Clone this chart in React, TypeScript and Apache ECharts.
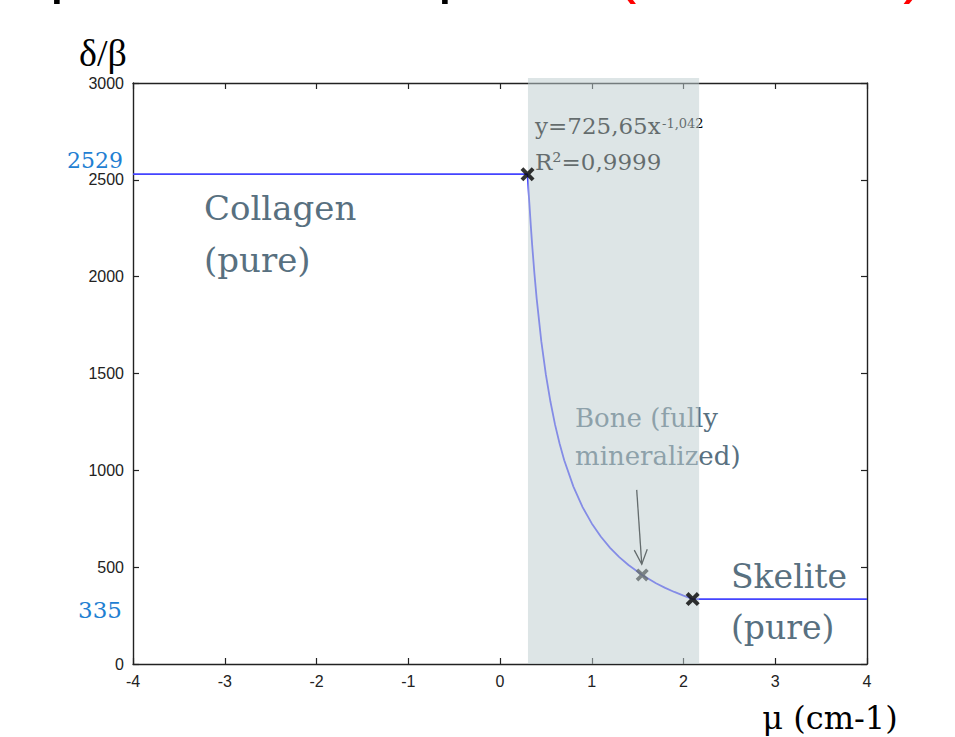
import React, { useEffect, useRef } from "react";
import * as echarts from "echarts";

// ---- data ----
const xTickMin = -4;
const xTickMax = 4;
const yTickMin = 0;
const yTickMax = 3000;

const collagenX = [-4, 0.3];
const collagenY = [2529, 2529];

const fitX = [0.31, 0.32, 0.335, 0.35, 0.375, 0.4, 0.45, 0.5, 0.55, 0.6, 0.65, 0.7, 0.8, 0.9, 1.0, 1.1, 1.2, 1.3, 1.4, 1.55, 1.7, 1.8, 1.9, 2.0, 2.1];
const fitY = [2451, 2379, 2269, 2167, 2017, 1885, 1667, 1494, 1354, 1236, 1137, 1052, 916, 810, 726, 657, 600, 552, 511, 460, 417, 393, 372, 353, 335];

const skeliteX = [2.1, 4];
const skeliteY = [335, 335];

const pureMarkers = [
  [0.3, 2529],
  [2.1, 335],
];
const boneMarker = [[1.55, 460]];

const bandRange = [0.305, 2.17];
const arrowFrom = [1.49, 899];
const arrowTo = [1.545, 515];

const labelCollagen = 2529;
const labelSkelite = 335;

const SERIF = "'DejaVu Serif', serif";
const SANS = "'Liberation Sans', Arial, sans-serif";
const TXT = "#587080";
const BLUE_LBL = "#1f80d2";

const XSYM =
  "path://M2,0 L5,3 L8,0 L10,2 L7,5 L10,8 L8,10 L5,7 L2,10 L0,8 L3,5 L0,2 Z";

export default function App() {
  const ref = useRef<HTMLDivElement>(null);

  useEffect(() => {
    if (!ref.current) return;
    const chart = echarts.init(ref.current, null, { renderer: "svg" });

    const lineData: number[][] = [];
    collagenX.forEach((x, i) => lineData.push([x, collagenY[i]]));
    fitX.forEach((x, i) => lineData.push([x, fitY[i]]));
    skeliteX.forEach((x, i) => lineData.push([x, skeliteY[i]]));

    const axisCommon = {
      type: "value" as const,
      axisLine: { show: true, onZero: false, lineStyle: { color: "#222", width: 1.4 } },
      axisTick: { show: true, inside: true, length: 6, lineStyle: { color: "#222", width: 1.2 } },
      splitLine: { show: false },
    };

    chart.setOption({
      animation: false,
      backgroundColor: "#fff",
      grid: { left: 133, right: 88, top: 83, bottom: 73, containLabel: false },
      xAxis: [
        {
          ...axisCommon,
          position: "bottom",
          min: xTickMin,
          max: xTickMax,
          interval: 1,
          axisLabel: {
            color: "#222",
            fontFamily: SANS,
            fontSize: 16,
            margin: 9,
            formatter: (v: number) => String(v),
          },
        },
        {
          ...axisCommon,
          position: "top",
          min: xTickMin,
          max: xTickMax,
          interval: 1,
          axisLabel: { show: false },
        },
      ],
      yAxis: [
        {
          ...axisCommon,
          position: "left",
          min: yTickMin,
          max: yTickMax,
          interval: 500,
          axisLabel: {
            color: "#222",
            fontFamily: SANS,
            fontSize: 16,
            margin: 9,
            formatter: (v: number) => String(v),
          },
        },
        {
          ...axisCommon,
          position: "right",
          min: yTickMin,
          max: yTickMax,
          interval: 500,
          axisLabel: { show: false },
        },
      ],
      series: [
        {
          type: "line",
          data: lineData,
          showSymbol: false,
          symbol: "none",
          smooth: false,
          lineStyle: { color: "#4444ff", width: 1.8 },
          z: 2,
        },
        {
          type: "scatter",
          data: boneMarker,
          symbol: XSYM,
          symbolSize: 13,
          itemStyle: { color: "#000" },
          z: 3,
        },
        {
          type: "custom",
          data: [bandRange],
          z: 10,
          silent: true,
          renderItem: (params: any, api: any) => {
            const x0 = api.value(0);
            const x1 = api.value(1);
            const a = api.coord([x0, yTickMax]);
            const b = api.coord([x1, yTickMin]);
            return {
              type: "rect",
              shape: { x: a[0], y: a[1] - 5, width: b[0] - a[0], height: b[1] - a[1] + 5 },
              style: { fill: "rgba(190,206,208,0.525)" },
            };
          },
          encode: { x: [0, 1] },
        },
        {
          type: "scatter",
          data: pureMarkers,
          symbol: XSYM,
          symbolSize: 14,
          itemStyle: { color: "#000" },
          z: 20,
        },
      ],
    });

    const p1 = chart.convertToPixel({ xAxisIndex: 0, yAxisIndex: 0 }, arrowFrom) as number[];
    const p2 = chart.convertToPixel({ xAxisIndex: 0, yAxisIndex: 0 }, arrowTo) as number[];
    const dx = p2[0] - p1[0];
    const dy = p2[1] - p1[1];
    const len = Math.sqrt(dx * dx + dy * dy);
    const ux = dx / len;
    const uy = dy / len;
    const hl = 16;
    const ang = (24 * Math.PI) / 180;
    const rot = (s: number) => [
      p2[0] - hl * (ux * Math.cos(s * ang) - uy * Math.sin(s * ang)),
      p2[1] - hl * (ux * Math.sin(s * ang) + uy * Math.cos(s * ang)),
    ];
    const hA = rot(1);
    const hB = rot(-1);

    const txt = (
      text: string,
      x: number,
      y: number,
      size: number,
      fill: string,
      family: string,
      align: string = "left"
    ) => ({
      type: "text",
      x,
      y,
      z: 5,
      silent: true,
      style: {
        text,
        fill,
        fontFamily: family,
        fontSize: size,
        align,
        verticalAlign: "middle",
      },
    });

    chart.setOption({
      graphic: [
        // cut-off title
        txt("Relation between absorption and the phase", 612, -31, 64, "#000", SANS, "right"),
        txt("(method 2)", 615, -31, 64, "#ff0000", SANS, "left"),
        // axis names
        txt("δ/β", 103, 53, 38, "#000", "'Liberation Serif', serif", "center"),
        txt("μ (cm-1)", 830, 718, 32, "#000", SERIF, "center"),
        // value labels
        txt(String(labelCollagen), 123, 160, 22, BLUE_LBL, SERIF, "right"),
        txt(String(labelSkelite), 122, 610, 23, BLUE_LBL, SERIF, "right"),
        // annotations
        txt("Collagen", 204, 208, 34, TXT, SERIF),
        txt("(pure)", 204, 260, 34, TXT, SERIF),
        txt("Skelite", 731, 576, 33, TXT, SERIF),
        txt("(pure)", 731, 627, 33, TXT, SERIF),
        txt("Bone (fully", 575, 418, 26, TXT, SERIF),
        txt("mineralized)", 575, 456, 26, TXT, SERIF),
        txt("y=725,65x", 535, 126, 23, "#000", SERIF),
        txt("-1,042", 662, 123, 13, "#000", SERIF),
        txt("R²=0,9999", 535, 162, 23, "#000", SERIF),
        // arrow
        {
          type: "line",
          z: 5,
          silent: true,
          shape: { x1: p1[0], y1: p1[1], x2: p2[0], y2: p2[1] },
          style: { stroke: "#000", lineWidth: 1.3 },
        },
        {
          type: "polyline",
          z: 5,
          silent: true,
          shape: { points: [hA, p2, hB] },
          style: { stroke: "#000", lineWidth: 1.3, fill: null },
        },
      ],
    });

    return () => chart.dispose();
  }, []);

  return (
    <div
      ref={ref}
      style={{ position: "fixed", left: 0, top: 0, width: 955, height: 737, background: "#fff" }}
    />
  );
}
